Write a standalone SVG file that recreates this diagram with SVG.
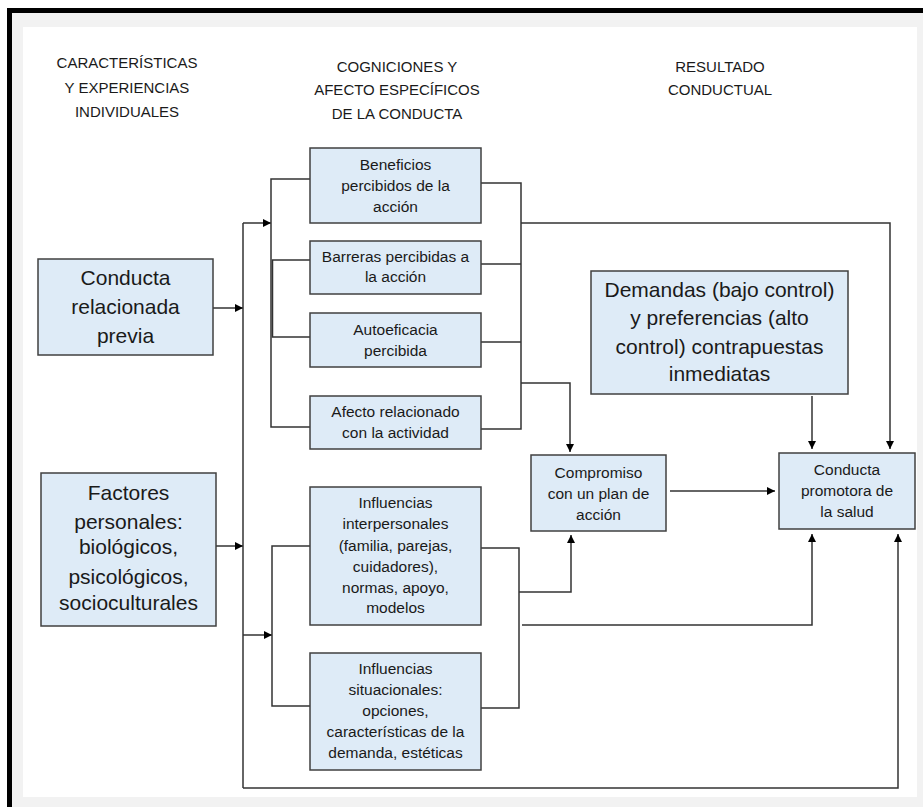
<svg xmlns="http://www.w3.org/2000/svg" width="923" height="807" viewBox="0 0 923 807">
<defs>
<marker id="ah" viewBox="0 0 10 10" refX="10" refY="5" markerUnits="userSpaceOnUse" markerWidth="9" markerHeight="8" orient="auto">
<path d="M0,0 L10,5 L0,10 z" fill="#000"/>
</marker>
<style>
.box{fill:#deebf7;stroke:#404040;stroke-width:1.5}
.t{font-family:"Liberation Sans",Arial,sans-serif;fill:#1a1a1a;text-anchor:middle}
.h{font-size:15px}
.s{font-size:15.5px}
.l{font-size:21px}
.c{fill:none;stroke:#333;stroke-width:1.5}
.a{fill:none;stroke:#333;stroke-width:1.5;marker-end:url(#ah)}
</style>
</defs>
<rect x="0" y="0" width="923" height="807" fill="#fff"/>
<rect x="7" y="8" width="916" height="799" fill="#000"/>
<rect x="12" y="13" width="911" height="794" fill="#f2f2f2"/>
<rect x="23" y="27" width="894" height="770" fill="#fff"/>

<g id="headers">
<text class="t h" x="127" y="68">CARACTERÍSTICAS</text>
<text class="t h" x="127" y="93">Y EXPERIENCIAS</text>
<text class="t h" x="127" y="117">INDIVIDUALES</text>
<text class="t h" x="397" y="72">COGNICIONES Y</text>
<text class="t h" x="397" y="95">AFECTO ESPECÍFICOS</text>
<text class="t h" x="397" y="119">DE LA CONDUCTA</text>
<text class="t h" x="720" y="72">RESULTADO</text>
<text class="t h" x="720" y="95">CONDUCTUAL</text>
</g>

<g id="connectors">
<line class="a" x1="213" y1="308" x2="243" y2="308"/>
<line class="a" x1="216" y1="546" x2="243" y2="546"/>
<line class="c" x1="243" y1="223" x2="243" y2="788"/>
<line class="a" x1="243" y1="223" x2="271" y2="223"/>
<line class="a" x1="243" y1="635" x2="272" y2="635"/>
<path class="c" d="M310,179 H271 V427 H310"/>
<path class="c" d="M310,260 H272.5 V337 H310"/>
<path class="c" d="M481,183 H521 V429 H481"/>
<path class="c" d="M481,264 H521 M481,342 H521"/>
<path class="a" d="M521,223 H890 V449"/>
<path class="a" d="M521,383 H570 V452"/>
<path class="c" d="M310,546 H272 V706 H310"/>
<path class="c" d="M481,548 H519 V708 H481"/>
<path class="a" d="M519,592 H571 V535"/>
<path class="a" d="M522,625 H812 V534"/>
<path class="a" d="M243,788 H898 V534"/>
<line class="a" x1="812" y1="396" x2="812" y2="449"/>
<line class="a" x1="670" y1="491" x2="775" y2="491"/>
</g>

<g id="n_previa">
<rect class="box" x="38" y="259" width="175" height="96"/>
<text class="t l" x="125.5" y="285">Conducta</text>
<text class="t l" x="125.5" y="314">relacionada</text>
<text class="t l" x="125.5" y="343">previa</text>
</g>

<g id="n_factores">
<rect class="box" x="41" y="473" width="175" height="153"/>
<text class="t l" x="128.5" y="500">Factores</text>
<text class="t l" x="128.5" y="529">personales:</text>
<text class="t l" x="128.5" y="554">biológicos,</text>
<text class="t l" x="128.5" y="584">psicológicos,</text>
<text class="t l" x="128.5" y="610">socioculturales</text>
</g>

<g id="n_beneficios">
<rect class="box" x="310" y="148" width="171" height="75"/>
<text class="t s" x="395.5" y="170">Beneficios</text>
<text class="t s" x="395.5" y="191">percibidos de la</text>
<text class="t s" x="395.5" y="212">acción</text>
</g>

<g id="n_barreras">
<rect class="box" x="310" y="241" width="171" height="53"/>
<text class="t s" x="395.5" y="262">Barreras percibidas a</text>
<text class="t s" x="395.5" y="282">la acción</text>
</g>

<g id="n_autoeficacia">
<rect class="box" x="310" y="313" width="171" height="54"/>
<text class="t s" x="395.5" y="335">Autoeficacia</text>
<text class="t s" x="395.5" y="356">percibida</text>
</g>

<g id="n_afecto">
<rect class="box" x="310" y="396" width="171" height="53"/>
<text class="t s" x="395.5" y="417">Afecto relacionado</text>
<text class="t s" x="395.5" y="438">con la actividad</text>
</g>

<g id="n_interpersonales">
<rect class="box" x="310" y="487" width="171" height="138"/>
<text class="t s" x="395.5" y="508">Influencias</text>
<text class="t s" x="395.5" y="529">interpersonales</text>
<text class="t s" x="395.5" y="551">(familia, parejas,</text>
<text class="t s" x="395.5" y="572">cuidadores),</text>
<text class="t s" x="395.5" y="593">normas, apoyo,</text>
<text class="t s" x="395.5" y="613">modelos</text>
</g>

<g id="n_situacionales">
<rect class="box" x="310" y="653" width="171" height="117"/>
<text class="t s" x="395.5" y="674">Influencias</text>
<text class="t s" x="395.5" y="695">situacionales:</text>
<text class="t s" x="395.5" y="716">opciones,</text>
<text class="t s" x="395.5" y="737">características de la</text>
<text class="t s" x="395.5" y="758">demanda, estéticas</text>
</g>

<g id="n_compromiso">
<rect class="box" x="531" y="455" width="135" height="76"/>
<text class="t s" x="598.5" y="478">Compromiso</text>
<text class="t s" x="598.5" y="499">con un plan de</text>
<text class="t s" x="598.5" y="520">acción</text>
</g>

<g id="n_demandas">
<rect class="box" x="591" y="271" width="257" height="123"/>
<text class="t l" x="719.5" y="297">Demandas (bajo control)</text>
<text class="t l" x="719.5" y="325">y preferencias (alto</text>
<text class="t l" x="719.5" y="354">control) contrapuestas</text>
<text class="t l" x="719.5" y="381">inmediatas</text>
</g>

<g id="n_conducta">
<rect class="box" x="779" y="453" width="136" height="76"/>
<text class="t s" x="847" y="475">Conducta</text>
<text class="t s" x="847" y="496">promotora de</text>
<text class="t s" x="847" y="517">la salud</text>
</g>
</svg>
